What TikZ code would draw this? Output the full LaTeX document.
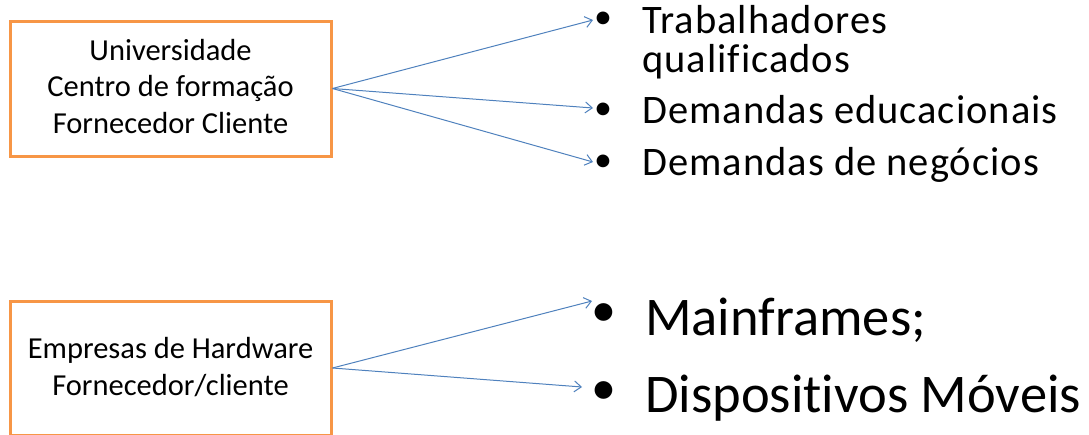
\documentclass[tikz,border=0pt]{standalone}
\usepackage{fontspec}
\setmainfont{Carlito}[Ligatures=NoCommon]
\usetikzlibrary{arrows.meta}
\definecolor{boxorange}{HTML}{F79646}
\definecolor{linkblue}{HTML}{4F81BD}
\begin{document}
\begin{tikzpicture}[x=1pt,y=-1pt,
  actor/.style={draw=boxorange,line width=3pt,fill=white,minimum width=321pt,inner sep=0pt},
  boxtext/.style={anchor=base,inner sep=0pt,font=\fontsize{30.5}{36.5}\selectfont},
  link/.style={draw=linkblue,line width=1pt,-{Straight Barb[length=7pt,width=11pt,line width=1pt]}},
  itemS/.style={anchor=base west,inner sep=0pt,font=\fontsize{40.5}{39}\selectfont\addfontfeature{LetterSpace=2.5}},
  itemL/.style={anchor=base west,inner sep=0pt,font=\fontsize{54.5}{66}\selectfont},
  dotS/.style={anchor=center,inner sep=0pt,font=\fontsize{36}{36}\selectfont},
  dotL/.style={anchor=center,inner sep=0pt,font=\fontsize{50}{50}\selectfont}]
\useasboundingbox (0,0) rectangle (1089,434);

% source boxes
\node[actor,minimum height=135pt] (uni) at (170.5,88.5) {};
\node[boxtext] (uniA) at (170.5,60) {Universidade};
\node[boxtext] (uniB) at (170.5,96.5) {Centro de formação};
\node[boxtext] (uniC) at (170.5,133) {Fornecedor Cliente};

\node[actor,minimum height=134pt] (hw) at (170.5,368) {};
\node[boxtext] (hwA) at (170.5,358) {Empresas de Hardware};
\node[boxtext] (hwB) at (170.5,395) {Fornecedor/cliente};

% bullet items, upper group
\node[dotS] (b1) at (603,20) {•};
\node[dotS] (b2) at (603,111) {•};
\node[dotS] (b3) at (603,163) {•};
\node[itemS] (t1) at (642,33) {Trabalhadores};
\node[itemS] (t1b) at (642,72) {qualificados};
\node[itemS] (t2) at (642,123) {Demandas educacionais};
\node[itemS] (t3) at (642,175) {Demandas de negócios};

% bullet items, lower group
\node[dotL] (b4) at (604,315) {•};
\node[dotL] (b5) at (604,393) {•};
\node[itemL] (t4) at (645,335) {Mainframes;};
\node[itemL] (t5) at (645,412) {Dispositivos Móveis};

% arrow ends just left of the bullets
\coordinate (e1) at (593,20);
\coordinate (e2) at (593,108);
\coordinate (e3) at (593,162);
\coordinate (e4) at (592,301);
\coordinate (e5) at (582,387);

\draw[link] (uni.east) -- (e1);
\draw[link] (uni.east) -- (e2);
\draw[link] (uni.east) -- (e3);
\draw[link] (hw.east) -- (e4);
\draw[link] (hw.east) -- (e5);
\end{tikzpicture}
\end{document}
